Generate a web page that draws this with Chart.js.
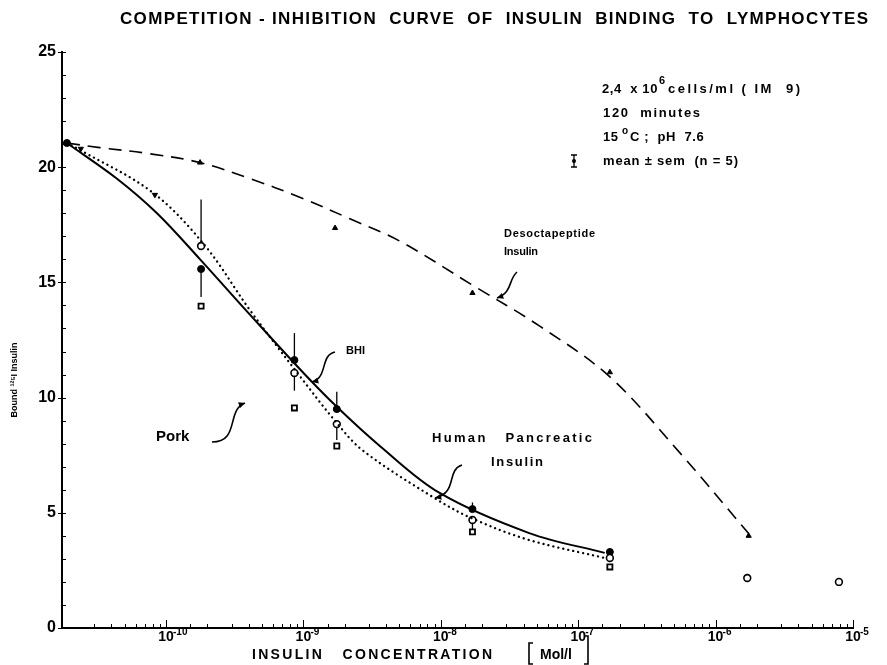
<!DOCTYPE html>
<html>
<head>
<meta charset="utf-8">
<script src="https://cdn.jsdelivr.net/npm/chart.js@4"></script>
<style>
  body { margin: 0; background: #fff; }
  #wrap { width: 887px; height: 665px; position: relative; }
</style>
</head>
<body>
<div id="wrap"><canvas id="chart"></canvas></div>
<script>
// --- data (x in Mol/l, y in bound 125I insulin) ---
const bhiConc = [1.9e-11, 1.8e-10, 8.6e-10, 1.75e-9, 1.7e-8, 1.7e-7];
const bhiBound = [21.05, 15.58, 11.63, 9.5, 5.16, 3.3];

const humanConc = [1.8e-10, 8.6e-10, 1.75e-9, 1.7e-8, 1.7e-7, 1.7e-6, 7.9e-6];
const humanBound = [16.58, 11.07, 8.85, 4.69, 3.04, 2.17, 2.0];

const humanLowConc = [2.4e-11, 8.3e-11];
const humanLowBound = [20.8, 18.8];

const porkConc = [1.8e-10, 8.6e-10, 1.75e-9, 1.7e-8, 1.7e-7];
const porkBound = [13.97, 9.55, 7.9, 4.17, 2.65];

const desConc = [1.77e-10, 1.7e-9, 1.7e-8, 1.7e-7, 1.74e-6];
const desBound = [20.2, 17.36, 14.54, 11.1, 4.0];

// fitted curves as drawn in the figure
const bhiCurveConc = [1.9e-11, 4.4e-11, 8.6e-11, 1.77e-10, 4.08e-10, 9.9e-10, 1.75e-9, 3.6e-9, 9.8e-9, 4.4e-8, 1.56e-7];
const bhiCurveBound = [21.05, 19.5, 18.0, 16.0, 13.6, 11.1, 9.6, 7.9, 5.86, 4.12, 3.26];

const humanCurveConc = [1.9e-11, 2.37e-11, 8.0e-11, 1.92e-10, 4.08e-10, 8.97e-10, 1.75e-9, 2.71e-9, 9.0e-9, 1.7e-8, 4.4e-8, 1.56e-7];
const humanCurveBound = [21.05, 20.75, 18.9, 16.6, 13.8, 11.1, 8.9, 7.7, 5.64, 4.75, 3.82, 3.04];

const desCurveConc = [1.9e-11, 3.3e-11, 7.3e-11, 1.77e-10, 4.1e-10, 9.4e-10, 2.2e-9, 5.0e-9, 1.68e-8, 5.25e-8, 1.7e-7, 5.5e-7, 1.74e-6];
const desCurveBound = [21.05, 20.85, 20.6, 20.2, 19.5, 18.7, 17.75, 16.8, 14.9, 13.1, 10.9, 7.6, 4.1];

// vertical error bars: concentration, low, high
const errConc = [1.8e-10, 1.8e-10, 8.6e-10, 8.6e-10, 1.75e-9, 1.75e-9, 1.7e-8, 1.7e-8];
const errLow = [16.58, 14.37, 11.63, 10.3, 9.5, 8.16, 5.16, 4.17];
const errHigh = [18.6, 15.58, 12.8, 11.07, 10.25, 8.85, 5.45, 4.69];

const xTickPowers = [-10, -9, -8, -7, -6, -5];

function pts(xs, ys) {
    return xs.map((x, i) => ({ x: x, y: ys[i] }));
}

function isPow10(v) {
    const l = Math.log10(v);
    return Math.abs(l - Math.round(l)) < 1e-6;
}

const FONT = '"Liberation Sans", Arial, sans-serif';

// text with letter spacing stretched to a given width
function spacedText(ctx, text, x, y, width, font) {
    ctx.font = font;
    ctx.letterSpacing = '0px';
    const w = ctx.measureText(text).width;
    const sp = (width - w) / (text.length - 1);
    ctx.letterSpacing = sp + 'px';
    ctx.fillText(text, x, y);
    ctx.letterSpacing = '0px';
}

function arrow(ctx, p) {
    ctx.beginPath();
    ctx.moveTo(p[0], p[1]);
    ctx.bezierCurveTo(p[2], p[3], p[4], p[5], p[6], p[7]);
    ctx.lineWidth = 1.6;
    ctx.stroke();
    const a = Math.atan2(p[7] - p[5], p[6] - p[4]);
    ctx.beginPath();
    ctx.moveTo(p[6], p[7]);
    ctx.lineTo(p[6] - 7 * Math.cos(a - 0.45), p[7] - 7 * Math.sin(a - 0.45));
    ctx.lineTo(p[6] - 7 * Math.cos(a + 0.45), p[7] - 7 * Math.sin(a + 0.45));
    ctx.closePath();
    ctx.fill();
}

const notesPlugin = {
    id: 'notes',
    beforeDatasetsDraw(chart) {
        const ctx = chart.ctx;
        const xs = chart.scales.x, ys = chart.scales.y;
        ctx.save();
        ctx.strokeStyle = '#000';
        ctx.lineWidth = 1.3;
        // error bars behind the markers
        errConc.forEach((c, i) => {
            const px = xs.getPixelForValue(c);
            ctx.beginPath();
            ctx.moveTo(px, ys.getPixelForValue(errLow[i]));
            ctx.lineTo(px, ys.getPixelForValue(errHigh[i]));
            ctx.stroke();
        });
        // tick marks pointing into the plot
        ctx.lineWidth = 1;
        const bottom = chart.chartArea.bottom, left = chart.chartArea.left;
        ctx.beginPath();
        xs.ticks.forEach(t => {
            const px = Math.round(xs.getPixelForValue(t.value)) + 0.5;
            const len = isPow10(t.value) ? 8 : 4;
            ctx.moveTo(px, bottom);
            ctx.lineTo(px, bottom - len);
        });
        ys.ticks.forEach(t => {
            const py = Math.round(ys.getPixelForValue(t.value)) + 0.5;
            const major = t.value % 5 === 0;
            ctx.moveTo(left - (major ? 4 : 0), py);
            ctx.lineTo(left + 4, py);
        });
        ctx.stroke();
        ctx.restore();
    },
    afterDraw(chart) {
        const ctx = chart.ctx;
        const xs = chart.scales.x;
        ctx.save();
        ctx.fillStyle = '#000';
        ctx.strokeStyle = '#000';
        ctx.textBaseline = 'middle';
        ctx.textAlign = 'left';

        // exponents of the x tick labels
        ctx.font = 'bold 10px ' + FONT;
        xTickPowers.forEach(p => {
            const px = xs.getPixelForValue(Math.pow(10, p));
            ctx.fillText('-' + Math.abs(p), px + 7, 632);
        });

        // title
        spacedText(ctx, 'COMPETITION - INHIBITION  CURVE  OF  INSULIN  BINDING  TO  LYMPHOCYTES', 120, 19, 748, 'bold 17px ' + FONT);

        // conditions box
        ctx.font = 'bold 13px ' + FONT;
        ctx.letterSpacing = '0.6px';
        ctx.fillText('2,4  x 10', 602, 89);
        let w = ctx.measureText('2,4  x 10').width;
        ctx.font = 'bold 11px ' + FONT;
        ctx.fillText('6', 602 + w + 1, 81);
        ctx.letterSpacing = '0px';
        spacedText(ctx, 'cells/ml ( IM  9)', 602 + w + 10, 89, 800 - (602 + w + 10), 'bold 13px ' + FONT);
        spacedText(ctx, '120  minutes', 603, 113, 97, 'bold 13px ' + FONT);
        ctx.font = 'bold 13px ' + FONT;
        ctx.letterSpacing = '0.6px';
        ctx.fillText('15', 603, 137);
        ctx.font = 'bold 10px ' + FONT;
        ctx.fillText('o', 622, 131);
        ctx.font = 'bold 13px ' + FONT;
        ctx.fillText('C ;  pH  7.6', 630, 137);
        ctx.letterSpacing = '0px';
        spacedText(ctx, 'mean ± sem  (n = 5)', 603, 161, 135, 'bold 13px ' + FONT);
        // error-bar symbol
        ctx.lineWidth = 1.3;
        ctx.beginPath();
        ctx.moveTo(574, 155); ctx.lineTo(574, 167);
        ctx.moveTo(571, 155); ctx.lineTo(577, 155);
        ctx.moveTo(571, 167); ctx.lineTo(577, 167);
        ctx.stroke();
        ctx.beginPath(); ctx.arc(574, 161, 2, 0, Math.PI * 2); ctx.fill();

        // curve labels
        spacedText(ctx, 'Desoctapeptide', 504, 234, 91, 'bold 11px ' + FONT);
        spacedText(ctx, 'Insulin', 504, 252, 34, 'bold 11px ' + FONT);
        ctx.font = 'bold 11px ' + FONT;
        ctx.fillText('BHI', 346, 351);
        ctx.font = 'bold 15px ' + FONT;
        ctx.fillText('Pork', 156, 437);
        spacedText(ctx, 'Human   Pancreatic', 432, 438, 160, 'bold 13px ' + FONT);
        spacedText(ctx, 'Insulin', 491, 462, 52, 'bold 13px ' + FONT);

        // arrows
        arrow(ctx, [517, 272, 508, 280, 513, 292, 497, 298]);
        arrow(ctx, [335, 352, 320, 355, 328, 378, 312, 382]);
        arrow(ctx, [212, 442, 240, 442, 226, 410, 245, 403]);
        arrow(ctx, [462, 465, 446, 470, 458, 493, 435, 498]);

        // axis titles
        spacedText(ctx, 'INSULIN   CONCENTRATION', 252, 655, 240, 'bold 14px ' + FONT);
        ctx.font = 'bold 14px ' + FONT;
        ctx.fillText('Mol/l', 540, 655);
        ctx.lineWidth = 1.6;
        ctx.beginPath();
        ctx.moveTo(533, 643); ctx.lineTo(529, 643); ctx.lineTo(529, 664); ctx.lineTo(533, 664);
        ctx.moveTo(584, 636); ctx.lineTo(588, 636); ctx.lineTo(588, 664); ctx.lineTo(584, 664);
        ctx.stroke();

        ctx.translate(15, 380);
        ctx.rotate(-Math.PI / 2);
        ctx.textAlign = 'center';
        ctx.font = 'bold 9px ' + FONT;
        ctx.fillText('Bound ¹²⁵I Insulin', 0, 0);
        ctx.restore();
    }
};

const lineBase = { showLine: true, pointRadius: 0, borderColor: '#000', fill: false, tension: 0.35 };

new Chart(document.getElementById('chart'), {
    type: 'scatter',
    data: {
        datasets: [
            Object.assign({ label: 'BHI fit', data: pts(bhiCurveConc, bhiCurveBound), borderWidth: 2 }, lineBase),
            Object.assign({ label: 'Human fit', data: pts(humanCurveConc, humanCurveBound), borderWidth: 2.3, borderDash: [0.1, 5], borderCapStyle: 'round' }, lineBase),
            Object.assign({ label: 'Desoctapeptide fit', data: pts(desCurveConc, desCurveBound), borderWidth: 1.6, borderDash: [13, 8] }, lineBase),
            {
                label: 'Pork', data: pts(porkConc, porkBound),
                pointStyle: 'rect', pointRadius: 3.6, backgroundColor: '#fff', borderColor: '#000', borderWidth: 1.8
            },
            {
                label: 'Human', data: pts(humanConc, humanBound),
                pointStyle: 'circle', pointRadius: 3.4, backgroundColor: '#fff', borderColor: '#000', borderWidth: 1.6
            },
            {
                label: 'Human low', data: pts(humanLowConc, humanLowBound),
                pointStyle: 'triangle', rotation: 180, pointRadius: 3, backgroundColor: '#000', borderColor: '#000', borderWidth: 1
            },
            {
                label: 'BHI', data: pts(bhiConc, bhiBound),
                pointStyle: 'circle', pointRadius: 3.5, backgroundColor: '#000', borderColor: '#000', borderWidth: 1
            },
            {
                label: 'Desoctapeptide', data: pts(desConc, desBound),
                pointStyle: 'triangle', pointRadius: 3, backgroundColor: '#000', borderColor: '#000', borderWidth: 1
            }
        ]
    },
    options: {
        responsive: true,
        maintainAspectRatio: false,
        animation: false,
        layout: { padding: { top: 52, right: 34, left: 0, bottom: 0 } },
        plugins: {
            legend: { display: false },
            tooltip: { enabled: false }
        },
        scales: {
            x: {
                type: 'logarithmic',
                min: 1.75e-11,
                max: 1e-5,
                afterFit: s => { s.height = 37; },
                border: { color: '#000', width: 2 },
                grid: { drawOnChartArea: false, drawTicks: false },
                ticks: {
                    autoSkip: false,
                    maxRotation: 0,
                    padding: 1,
                    color: '#000',
                    font: { family: FONT, size: 14, weight: 'bold' },
                    callback: v => {
                        const p = Math.round(Math.log10(v));
                        if (isPow10(v) && xTickPowers.includes(p)) return '10';
                        return '';
                    }
                }
            },
            y: {
                min: 0,
                max: 25,
                afterFit: s => { s.width = 62; },
                border: { color: '#000', width: 2 },
                grid: { drawOnChartArea: false, drawTicks: false },
                ticks: {
                    stepSize: 1,
                    autoSkip: false,
                    padding: 6,
                    color: '#000',
                    font: { family: FONT, size: 16, weight: 'bold' },
                    callback: v => (v % 5 === 0 ? v : '')
                }
            }
        }
    },
    plugins: [notesPlugin]
});
</script>
</body>
</html>
